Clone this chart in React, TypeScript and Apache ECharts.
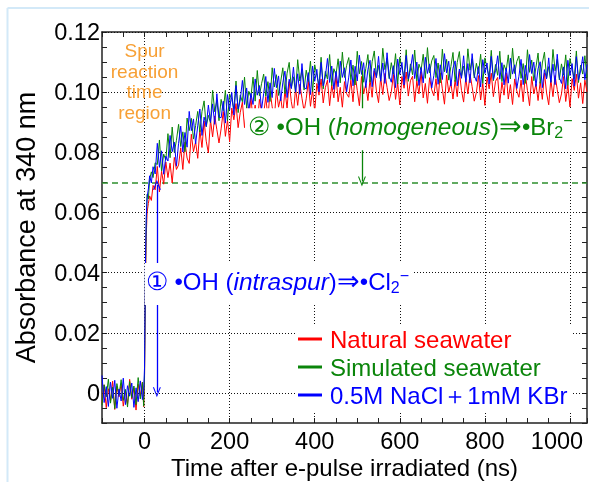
import React, { useEffect, useRef } from 'react';
import * as echarts from 'echarts';

// Time after e-pulse (ns)
const times = [
  -100, -95, -90, -85, -80, -75, -70, -65, -60, -55, -50, -45, -40, -35, -30, -25, -20, -15, -10, -5, -2,
  0, 2, 4, 6, 9, 12, 16, 20, 25,
  30, 35, 40, 45, 50, 55, 60, 65, 70, 75,
  80, 85, 90, 95, 100, 105, 110, 115, 120, 125,
  130, 135, 140, 145, 150, 155, 160, 165, 170, 175,
  180, 185, 190, 195, 200, 205, 210, 215, 220, 225,
  230, 235, 240, 245, 250, 255, 260, 265, 270, 275,
  280, 285, 290, 295, 300, 305, 310, 315, 320, 325,
  330, 335, 340, 345, 350, 355, 360, 365, 370, 375,
  380, 385, 390, 395, 400, 405, 410, 415, 420, 425,
  430, 435, 440, 445, 450, 455, 460, 465, 470, 475,
  480, 485, 490, 495, 500, 505, 510, 515, 520, 525,
  530, 535, 540, 545, 550, 555, 560, 565, 570, 575,
  580, 585, 590, 595, 600, 605, 610, 615, 620, 625,
  630, 635, 640, 645, 650, 655, 660, 665, 670, 675,
  680, 685, 690, 695, 700, 705, 710, 715, 720, 725,
  730, 735, 740, 745, 750, 755, 760, 765, 770, 775,
  780, 785, 790, 795, 800, 805, 810, 815, 820, 825,
  830, 835, 840, 845, 850, 855, 860, 865, 870, 875,
  880, 885, 890, 895, 900, 905, 910, 915, 920, 925,
  930, 935, 940, 945, 950, 955, 960, 965, 970, 975,
  980, 985, 990, 995, 1000, 1005, 1010, 1015, 1020, 1025,
  1030, 1035, 1040,
];

// Natural seawater (red)
const naturalSeawater = [
  -0.0035, 0.0027, -0.0049, 0.0014, -0.0026, 0.0039, -0.0055, 0.0022, -0.0013, 0.0031, -0.0044, 0.0008, -0.0038, 0.0045, -0.0021, 0.0017, -0.0057, 0.0029, -0.0010, 0.0036, -0.0046,
  0.0050, 0.0350, 0.0520, 0.0600, 0.0630, 0.0655, 0.0640, 0.0690, 0.0675,
  0.0753, 0.0668, 0.0737, 0.0694, 0.0768, 0.0716, 0.0764, 0.0698, 0.0783, 0.0743,
  0.0758, 0.0815, 0.0743, 0.0834, 0.0781, 0.0763, 0.0860, 0.0802, 0.0835, 0.0780,
  0.0875, 0.0816, 0.0904, 0.0837, 0.0798, 0.0908, 0.0851, 0.0921, 0.0875, 0.0831,
  0.0878, 0.0936, 0.0853, 0.0908, 0.0835, 0.0947, 0.0908, 0.0962, 0.0882, 0.0933,
  0.0967, 0.0882, 0.0951, 0.0908, 0.0982, 0.0909, 0.0957, 0.0891, 0.0976, 0.0936,
  0.0928, 0.0985, 0.0913, 0.1004, 0.0951, 0.0911, 0.1008, 0.0950, 0.0983, 0.0928,
  0.1006, 0.0947, 0.1035, 0.0968, 0.0929, 0.1013, 0.0956, 0.1026, 0.0980, 0.0936,
  0.0978, 0.1036, 0.0953, 0.1008, 0.0935, 0.1029, 0.0990, 0.1044, 0.0964, 0.1015,
  0.1040, 0.0955, 0.1024, 0.0981, 0.1055, 0.0968, 0.1016, 0.0950, 0.1035, 0.0995,
  0.0983, 0.1040, 0.0968, 0.1059, 0.1006, 0.0955, 0.1052, 0.0994, 0.1027, 0.0972,
  0.1042, 0.0983, 0.1071, 0.1004, 0.0965, 0.1049, 0.0992, 0.1062, 0.1016, 0.0972,
  0.1001, 0.1059, 0.0976, 0.1031, 0.0958, 0.1052, 0.1013, 0.1067, 0.0987, 0.1038,
  0.1053, 0.0968, 0.1037, 0.0994, 0.1068, 0.0981, 0.1029, 0.0963, 0.1048, 0.1008,
  0.0988, 0.1045, 0.0973, 0.1064, 0.1011, 0.0960, 0.1057, 0.0999, 0.1032, 0.0977,
  0.1040, 0.0985, 0.1069, 0.1006, 0.0967, 0.1047, 0.0994, 0.1060, 0.1018, 0.0970,
  0.0999, 0.1055, 0.0974, 0.1029, 0.0956, 0.1050, 0.1011, 0.1063, 0.0985, 0.1036,
  0.1049, 0.0964, 0.1033, 0.0990, 0.1064, 0.0977, 0.1025, 0.0959, 0.1044, 0.1004,
  0.0983, 0.1040, 0.0968, 0.1059, 0.1006, 0.0955, 0.1052, 0.0994, 0.1027, 0.0972,
  0.1035, 0.0976, 0.1064, 0.0997, 0.0958, 0.1042, 0.0985, 0.1055, 0.1009, 0.0965,
  0.0994, 0.1052, 0.0969, 0.1024, 0.0951, 0.1045, 0.1006, 0.1060, 0.0980, 0.1031,
  0.0962, 0.1040, 0.1001,
];

// Simulated seawater (green)
const simulatedSeawater = [
  -0.0041, 0.0027, -0.0013, 0.0046, -0.0034, 0.0019, -0.0052, 0.0031, -0.0008, 0.0044, -0.0025, 0.0012, -0.0047, 0.0038, -0.0016, 0.0023, -0.0039, 0.0051, -0.0020, 0.0035, -0.0044,
  0.0062, 0.0385, 0.0560, 0.0660, 0.0645, 0.0710, 0.0735, 0.0716, 0.0765,
  0.0759, 0.0841, 0.0738, 0.0794, 0.0774, 0.0862, 0.0782, 0.0884, 0.0800, 0.0840,
  0.0893, 0.0819, 0.0868, 0.0802, 0.0914, 0.0872, 0.0913, 0.0844, 0.0889, 0.0936,
  0.0867, 0.0935, 0.0971, 0.0885, 0.0923, 0.0898, 0.1006, 0.0935, 0.0973, 0.0905,
  0.0976, 0.0938, 0.1006, 0.0905, 0.0994, 0.0976, 0.0945, 0.1037, 0.0932, 0.0990,
  0.0968, 0.1050, 0.0947, 0.1003, 0.0983, 0.1050, 0.0970, 0.1072, 0.0988, 0.1028,
  0.1060, 0.0986, 0.1035, 0.0969, 0.1081, 0.1017, 0.1058, 0.0989, 0.1034, 0.1081,
  0.0995, 0.1063, 0.1099, 0.1013, 0.1051, 0.1000, 0.1108, 0.1037, 0.1075, 0.1007,
  0.1073, 0.1035, 0.1103, 0.1002, 0.1091, 0.1055, 0.1024, 0.1116, 0.1011, 0.1069,
  0.1043, 0.1125, 0.1022, 0.1078, 0.1058, 0.1111, 0.1031, 0.1133, 0.1049, 0.1089,
  0.1115, 0.1041, 0.1090, 0.1024, 0.1136, 0.1061, 0.1102, 0.1033, 0.1078, 0.1125,
  0.1033, 0.1101, 0.1137, 0.1051, 0.1089, 0.1038, 0.1146, 0.1075, 0.1113, 0.1045,
  0.1098, 0.1060, 0.1128, 0.1027, 0.1116, 0.1080, 0.1049, 0.1141, 0.1036, 0.1094,
  0.1058, 0.1140, 0.1037, 0.1093, 0.1073, 0.1126, 0.1046, 0.1148, 0.1064, 0.1104,
  0.1122, 0.1048, 0.1097, 0.1031, 0.1143, 0.1068, 0.1109, 0.1040, 0.1085, 0.1132,
  0.1035, 0.1099, 0.1135, 0.1053, 0.1087, 0.1040, 0.1144, 0.1073, 0.1111, 0.1047,
  0.1096, 0.1062, 0.1126, 0.1029, 0.1114, 0.1078, 0.1051, 0.1139, 0.1038, 0.1092,
  0.1056, 0.1136, 0.1035, 0.1091, 0.1071, 0.1124, 0.1044, 0.1146, 0.1062, 0.1102,
  0.1120, 0.1046, 0.1095, 0.1029, 0.1141, 0.1066, 0.1107, 0.1038, 0.1083, 0.1130,
  0.1029, 0.1097, 0.1133, 0.1047, 0.1085, 0.1034, 0.1142, 0.1071, 0.1109, 0.1041,
  0.1094, 0.1056, 0.1124, 0.1023, 0.1112, 0.1076, 0.1045, 0.1137, 0.1032, 0.1090,
  0.1060, 0.1121, 0.1048,
];

// 0.5M NaCl + 1mM KBr (blue)
const naclKbr = [
  0.0058, -0.0032, 0.0021, -0.0045, 0.0036, -0.0018, 0.0042, -0.0051, 0.0013, -0.0027, 0.0049, -0.0039, 0.0024, -0.0011, 0.0033, -0.0048, 0.0017, -0.0029, 0.0040, -0.0022, 0.0009,
  0.0085, 0.0420, 0.0585, 0.0650, 0.0678, 0.0722, 0.0698, 0.0752, 0.0728,
  0.0830, 0.0750, 0.0805, 0.0727, 0.0787, 0.0771, 0.0856, 0.0802, 0.0834, 0.0754,
  0.0830, 0.0887, 0.0801, 0.0866, 0.0817, 0.0936, 0.0872, 0.0911, 0.0828, 0.0888,
  0.0944, 0.0856, 0.0917, 0.0886, 0.0957, 0.0900, 0.0961, 0.0893, 0.0995, 0.0917,
  0.0915, 0.0970, 0.0897, 0.0992, 0.0941, 0.0999, 0.0924, 0.1022, 0.0944, 0.0974,
  0.1039, 0.0959, 0.1014, 0.0936, 0.0996, 0.0959, 0.1044, 0.0990, 0.1022, 0.0942,
  0.0995, 0.1052, 0.0966, 0.1031, 0.0982, 0.1079, 0.1015, 0.1054, 0.0971, 0.1031,
  0.1070, 0.0982, 0.1043, 0.1012, 0.1083, 0.1000, 0.1061, 0.0993, 0.1095, 0.1017,
  0.1010, 0.1065, 0.0992, 0.1087, 0.1036, 0.1076, 0.1001, 0.1099, 0.1021, 0.1051,
  0.1112, 0.1032, 0.1087, 0.1009, 0.1069, 0.1018, 0.1103, 0.1049, 0.1081, 0.1001,
  0.1050, 0.1107, 0.1021, 0.1086, 0.1037, 0.1123, 0.1059, 0.1098, 0.1015, 0.1075,
  0.1106, 0.1018, 0.1079, 0.1048, 0.1119, 0.1036, 0.1097, 0.1029, 0.1131, 0.1053,
  0.1033, 0.1088, 0.1015, 0.1110, 0.1059, 0.1099, 0.1024, 0.1122, 0.1044, 0.1074,
  0.1125, 0.1045, 0.1100, 0.1022, 0.1082, 0.1031, 0.1116, 0.1062, 0.1094, 0.1014,
  0.1055, 0.1112, 0.1026, 0.1091, 0.1042, 0.1128, 0.1064, 0.1103, 0.1020, 0.1080,
  0.1104, 0.1021, 0.1077, 0.1046, 0.1121, 0.1033, 0.1095, 0.1031, 0.1128, 0.1056,
  0.1036, 0.1085, 0.1017, 0.1108, 0.1062, 0.1097, 0.1027, 0.1119, 0.1042, 0.1071,
  0.1121, 0.1043, 0.1098, 0.1024, 0.1080, 0.1030, 0.1113, 0.1060, 0.1091, 0.1012,
  0.1053, 0.1109, 0.1025, 0.1089, 0.1040, 0.1125, 0.1062, 0.1100, 0.1019, 0.1078,
  0.1101, 0.1015, 0.1075, 0.1044, 0.1114, 0.1032, 0.1093, 0.1025, 0.1126, 0.1049,
  0.1029, 0.1084, 0.1011, 0.1106, 0.1055, 0.1095, 0.1020, 0.1118, 0.1040, 0.1070,
  0.1118, 0.1041, 0.1092,
];

const seriesNames = ['Natural seawater', 'Simulated seawater', '0.5M NaCl＋1mM KBr'];
const xMajorTicks = [0, 200, 400, 600, 800, 1000];
const yMajorTicks = [0, 0.02, 0.04, 0.06, 0.08, 0.1, 0.12];
const homogeneousLevel = 0.0703;
const intraspurArrow = { t: 29, top: 0.0692, bottom: 0.0002 };
const homogeneousArrow = { t: 511, top: 0.1073, bottom: homogeneousLevel };

const FONT = '"Liberation Sans", Arial, Helvetica, sans-serif';
const RED = '#ff0000';
const GREEN = '#0a850a';
const BLUE = '#0000ff';
const ORANGE = '#f7a035';
const DASH_GREEN = '#2e8f2e';
const ARROW = 'path://M5,0 L10,12 L8.6,12 L5,3.2 L1.4,12 L0,12 Z';
const TICK_FONT = 23.5;

function pairs(vals: number[]) {
  const n = Math.min(times.length, vals.length);
  const out: number[][] = [];
  for (let i = 0; i < n; i++) out.push([times[i], vals[i]]);
  return out;
}

const xFormatter = (v: number) => {
  const k = Math.round(v);
  if (k % 200 !== 0) return '';
  return k === 1000 ? '{r|1000}' : String(k);
};
const yFormatter = (v: number) => {
  const k = Math.round(v * 1000);
  if (k % 20 !== 0) return '';
  return k === 0 ? '0' : (k / 1000).toFixed(2);
};

const axisLineStyle = { color: '#222', width: 1.5 };

export default function App() {
  const ref = useRef<HTMLDivElement>(null);
  useEffect(() => {
    const el = ref.current!;
    const chart = echarts.init(el, null, { renderer: 'svg' });
    const xBase = {
      type: 'value' as const,
      min: -100,
      max: 1040,
      interval: 50,
      axisLine: { show: true, onZero: false, lineStyle: axisLineStyle },
      axisTick: { show: true, inside: true, length: 5, lineStyle: { color: '#222', width: 1 } },
      splitLine: { show: false },
    };
    const yBase = {
      type: 'value' as const,
      min: -0.01,
      max: 0.12,
      interval: 0.005,
      axisLine: { show: true, onZero: false, lineStyle: axisLineStyle },
      axisTick: { show: true, inside: true, length: 5, lineStyle: { color: '#222', width: 1 } },
      splitLine: { show: false },
    };
    const colors = [RED, GREEN, BLUE];
    const valueSets = [naturalSeawater, simulatedSeawater, naclKbr];
    const option: any = {
      animation: false,
      textStyle: { fontFamily: FONT },
      grid: { left: 102, top: 32, right: 2, bottom: 59, containLabel: false, outerBoundsMode: 'none' },
      xAxis: [
        {
          ...xBase,
          position: 'bottom',
          axisLabel: {
            show: true,
            fontSize: TICK_FONT,
            color: '#000',
            margin: 6,
            formatter: xFormatter,
            fontFamily: FONT,
            rich: { r: { fontSize: TICK_FONT, color: '#000', fontFamily: FONT, padding: [0, 26, 0, 0] } },
          },
          name: 'Time after e-pulse irradiated (ns)',
          nameLocation: 'middle',
          nameMoveOverlap: false,
          nameGap: 32,
          nameTextStyle: { fontSize: 24, color: '#000', fontFamily: FONT, lineHeight: 25 },
        },
        { ...xBase, position: 'top', axisLabel: { show: false } },
      ],
      yAxis: [
        {
          ...yBase,
          position: 'left',
          axisLabel: { show: true, fontSize: TICK_FONT, color: '#000', margin: 2, formatter: yFormatter, fontFamily: FONT },
          name: 'Absorbance at 340 nm',
          nameLocation: 'middle',
          nameMoveOverlap: false,
          nameGap: 63,
          nameRotate: 90,
          nameTextStyle: { fontSize: 27, color: '#000', fontFamily: FONT },
        },
        { ...yBase, position: 'right', axisLabel: { show: false } },
      ],
      legend: {
        orient: 'vertical',
        left: 296,
        top: 325,
        z: 6,
        padding: [2, 4, 4, 2],
        itemGap: 4,
        itemWidth: 24,
        itemHeight: 3,
        icon: 'rect',
        backgroundColor: '#fff',
        selectedMode: false,
        textStyle: { fontSize: 24, fontFamily: FONT, padding: [0, 0, 0, 3] },
        data: seriesNames.map((n, i) => ({ name: n, textStyle: { color: colors[i] } })),
      },
      series: [
        {
          name: 'grid',
          type: 'line',
          data: [],
          silent: true,
          z: 1,
          markLine: {
            silent: true,
            z: 1,
            symbol: 'none',
            label: { show: false },
            lineStyle: { type: [1, 2], color: '#111', width: 1 },
            emphasis: { disabled: true },
            data: [
              ...xMajorTicks.map((v) => ({ xAxis: v })),
              ...yMajorTicks.map((v) => ({ yAxis: v })),
            ],
          },
        },
        {
          name: 'homogeneous level',
          type: 'line',
          data: [],
          silent: true,
          z: 1,
          markLine: {
            silent: true,
            z: 1,
            symbol: 'none',
            label: { show: false },
            lineStyle: { type: [6, 4], color: DASH_GREEN, width: 1.5, opacity: 1 },
            emphasis: { disabled: true },
            data: [{ yAxis: homogeneousLevel }],
          },
        },
        ...valueSets.map((vals, i) => ({
          name: seriesNames[i],
          type: 'line',
          data: pairs(vals),
          showSymbol: false,
          symbol: 'none',
          z: 2 + i,
          color: colors[i],
          lineStyle: { color: colors[i], width: 1 },
          emphasis: { disabled: true },
          silent: true,
        })),
        {
          name: 'homogeneous arrow',
          type: 'line',
          data: [],
          silent: true,
          z: 5,
          markLine: {
            silent: true,
            z: 5,
            label: { show: false },
            emphasis: { disabled: true },
            symbol: ['none', ARROW],
            symbolSize: [8, 10],
            lineStyle: { type: 'solid', color: GREEN, width: 1.3 },
            data: [
              [
                { coord: [homogeneousArrow.t, homogeneousArrow.top] },
                { coord: [homogeneousArrow.t, homogeneousArrow.bottom] },
              ],
            ],
          },
        },
        {
          name: 'intraspur arrow',
          type: 'line',
          data: [],
          silent: true,
          z: 5,
          markLine: {
            silent: true,
            z: 5,
            label: { show: false },
            emphasis: { disabled: true },
            symbol: [ARROW, ARROW],
            symbolSize: [8, 10],
            lineStyle: { type: 'solid', color: BLUE, width: 1.3 },
            data: [
              [
                { coord: [intraspurArrow.t, intraspurArrow.top] },
                { coord: [intraspurArrow.t, intraspurArrow.bottom] },
              ],
            ],
          },
        },
      ],
    };
    chart.setOption(option);

    const px = (x: number, y: number) => chart.convertToPixel({ gridIndex: 0 }, [x, y]) as number[];
    const spur = px(0, 0.1035);
    const homo = px(236, 0.0877);
    const intra = px(0.5, 0.0362);
    const richFor = (color: string) => ({
      t: { fontSize: 24, lineHeight: 28, fill: color, fontFamily: FONT },
      i: { fontSize: 24.5, lineHeight: 28, fill: color, fontFamily: FONT, fontStyle: 'italic' },
      c: { fontSize: 25, lineHeight: 28, fill: color, fontFamily: FONT },
      a: { fontSize: 27, lineHeight: 28, fill: color, fontFamily: FONT },
      sub: { fontSize: 16, lineHeight: 15, fill: color, fontFamily: FONT, verticalAlign: 'bottom' },
      sup: { fontSize: 16, lineHeight: 15, fill: color, fontFamily: FONT, verticalAlign: 'top' },
    });
    chart.setOption({
      graphic: [
        {
          type: 'line',
          silent: true,
          shape: { x1: 7.5, y1: 8, x2: 7.5, y2: 482 },
          style: { stroke: '#d3e9f8', lineWidth: 2 },
        },
        {
          type: 'line',
          silent: true,
          shape: { x1: 7.5, y1: 8, x2: 589, y2: 8 },
          style: { stroke: '#d3e9f8', lineWidth: 2 },
        },
        {
          type: 'text',
          silent: true,
          x: spur[0],
          y: spur[1],
          z: 20,
          style: {
            text: 'Spur\nreaction\ntime\nregion',
            fill: ORANGE,
            fontSize: 19,
            fontFamily: FONT,
            lineHeight: 20.5,
            align: 'center',
            verticalAlign: 'middle',
          },
        },
        {
          type: 'text',
          silent: true,
          x: homo[0],
          y: homo[1],
          z: 20,
          style: {
            text: '{c|②}{t| •OH (}{i|homogeneous}{t|)}{a|⇒}{t|•Br}{sub|2}{sup|−}',
            rich: richFor(GREEN),
            fill: GREEN,
            fontSize: 24,
            fontFamily: FONT,
            backgroundColor: '#fff',
            padding: [4, 1, 10, 3],
            align: 'left',
            verticalAlign: 'middle',
          },
        },
        {
          type: 'text',
          silent: true,
          x: intra[0],
          y: intra[1],
          z: 20,
          style: {
            text: '{c|①}{t| •OH (}{i|intraspur}{t|)}{a|⇒}{t|•Cl}{sub|2}{sup|−}',
            rich: richFor(BLUE),
            fill: BLUE,
            fontSize: 24,
            fontFamily: FONT,
            backgroundColor: '#fff',
            padding: [4, 3, 10, 1],
            align: 'left',
            verticalAlign: 'middle',
          },
        },
      ],
    });
    return () => chart.dispose();
  }, []);
  return <div ref={ref} style={{ position: 'fixed', left: 0, top: 0, width: 589, height: 482 }} />;
}
